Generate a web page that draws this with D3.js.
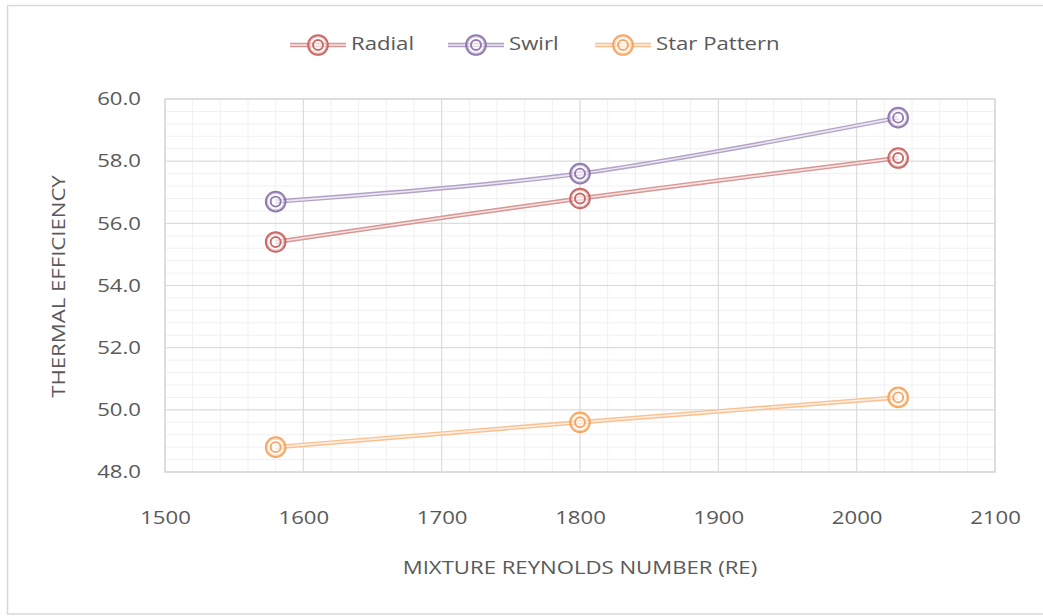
<!DOCTYPE html>
<html>
<head>
<meta charset="utf-8">
<script src="https://cdn.jsdelivr.net/npm/d3@7"></script>
<style>
  html, body { margin: 0; padding: 0; background: #fff; }
  svg { display: block; }
  text { font-family: "Open Sans", "Liberation Sans", sans-serif; fill: #595959; }
</style>
</head>
<body>
<svg id="chart" width="1043" height="616"></svg>
<script>
// Reynolds numbers of the mixture (x) and thermal efficiency per injector pattern
const reynolds = [1580, 1800, 2030];
const radial = [55.4, 56.8, 58.1];
const swirl = [56.7, 57.6, 59.4];
const starPattern = [48.8, 49.6, 50.4];

const seriesNames = ["Radial", "Swirl", "Star Pattern"];
const seriesValues = [radial, swirl, starPattern];
const ringColors = ["#c0504d", "#8064a2", "#f79646"];
const lineColors = ["#d99694", "#b3a2c7", "#fac090"];

const xTicks = [1500, 1600, 1700, 1800, 1900, 2000, 2100];
const yTicks = [48, 50, 52, 54, 56, 58, 60];

const svg = d3.select("#chart");
const W = 1043, H = 616;
const STRETCH = 1.23; // wide lettering of the chart's text

// outer chart frame
svg.append("rect")
  .attr("x", 7.5).attr("y", 5.5)
  .attr("width", W).attr("height", 608.5)
  .attr("fill", "#fff").attr("stroke", "#d9d9d9").attr("stroke-width", 1.5);

const plot = { left: 165, right: 995, top: 99, bottom: 472 };

const x = d3.scaleLinear().domain([1500, 2100]).range([plot.left, plot.right]);
const y = d3.scaleLinear().domain([48, 60]).range([plot.bottom, plot.top]);

const g = svg.append("g");

// minor gridlines
const xMinor = d3.range(1500, 2100.01, 20);
const yMinor = d3.range(48, 60.001, 0.4);
g.append("g").selectAll("line").data(xMinor).join("line")
  .attr("x1", d => x(d)).attr("x2", d => x(d))
  .attr("y1", plot.top).attr("y2", plot.bottom)
  .attr("stroke", "#f0f0f0").attr("stroke-width", 1);
g.append("g").selectAll("line").data(yMinor).join("line")
  .attr("y1", d => y(d)).attr("y2", d => y(d))
  .attr("x1", plot.left).attr("x2", plot.right)
  .attr("stroke", "#f0f0f0").attr("stroke-width", 1);

// major gridlines
g.append("g").selectAll("line").data(xTicks).join("line")
  .attr("x1", d => x(d)).attr("x2", d => x(d))
  .attr("y1", plot.top).attr("y2", plot.bottom)
  .attr("stroke", "#d9d9d9").attr("stroke-width", 1);
g.append("g").selectAll("line").data(yTicks).join("line")
  .attr("y1", d => y(d)).attr("y2", d => y(d))
  .attr("x1", plot.left).attr("x2", plot.right)
  .attr("stroke", "#d9d9d9").attr("stroke-width", 1);

// plot area border
g.append("rect")
  .attr("x", plot.left).attr("y", plot.top)
  .attr("width", plot.right - plot.left).attr("height", plot.bottom - plot.top)
  .attr("fill", "none").attr("stroke", "#d9d9d9").attr("stroke-width", 1.5);

// axes via d3 axis generators, styled without domain lines/ticks
const xAxis = d3.axisBottom(x).tickValues(xTicks).tickFormat(d3.format("d")).tickSize(0).tickPadding(0);
const yAxis = d3.axisLeft(y).tickValues(yTicks).tickFormat(d3.format(".1f")).tickSize(0).tickPadding(0);

const gx = svg.append("g").attr("transform", `translate(0,${plot.bottom + 46})`).call(xAxis);
gx.select(".domain").remove();
gx.selectAll("text").attr("font-size", 18).attr("fill", "#595959")
  .attr("dy", "0.35em").style("font-family", "'Open Sans', sans-serif");

const gy = svg.append("g").attr("transform", `translate(${plot.left - 24},0)`).call(yAxis);
gy.select(".domain").remove();
gy.selectAll("text").attr("font-size", 18).attr("fill", "#595959")
  .style("font-family", "'Open Sans', sans-serif");

// axis titles
svg.append("text")
  .attr("x", (plot.left + plot.right) / 2).attr("y", 569)
  .attr("text-anchor", "middle").attr("dominant-baseline", "middle")
  .attr("font-size", 18).text("MIXTURE REYNOLDS NUMBER (RE)");

svg.append("text")
  .attr("transform", `translate(60,${(plot.top + plot.bottom) / 2 + 1}) rotate(-90)`)
  .attr("text-anchor", "middle").attr("dominant-baseline", "middle")
  .attr("font-size", 18).text("THERMAL EFFICIENCY");

// smoothed series lines, drawn as a double stroke
const line = d3.line()
  .x((d, i) => x(reynolds[i]))
  .y(d => y(d))
  .curve(d3.curveCardinal.tension(0));

function drawMarker(sel, cx, cy, color) {
  sel.append("circle").attr("cx", cx).attr("cy", cy).attr("r", 9.8)
    .attr("fill", "#fff").attr("fill-opacity", 0.6)
    .attr("stroke", color).attr("stroke-width", 2).attr("stroke-opacity", 0.85);
  sel.append("circle").attr("cx", cx).attr("cy", cy).attr("r", 8.2)
    .attr("fill", "none").attr("stroke", color).attr("stroke-width", 0.8).attr("stroke-opacity", 0.45);
  sel.append("circle").attr("cx", cx).attr("cy", cy).attr("r", 5)
    .attr("fill", "none").attr("stroke", color).attr("stroke-width", 1.9).attr("stroke-opacity", 0.85);
}

seriesValues.forEach((vals, k) => {
  const s = svg.append("g");
  s.append("path").datum(vals).attr("d", line)
    .attr("fill", "none").attr("stroke", lineColors[k]).attr("stroke-width", 4.5);
  s.append("path").datum(vals).attr("d", line)
    .attr("fill", "none").attr("stroke", "#fff").attr("stroke-width", 1.6).attr("stroke-opacity", 0.75);
  vals.forEach((v, i) => drawMarker(s, x(reynolds[i]), y(v), ringColors[k]));
});

// legend
const legendItems = [
  { x: 290, name: seriesNames[0] },
  { x: 448, name: seriesNames[1] },
  { x: 595, name: seriesNames[2] }
];
legendItems.forEach((it, k) => {
  const lg = svg.append("g");
  const ly = 45;
  lg.append("line").attr("x1", it.x).attr("x2", it.x + 56).attr("y1", ly).attr("y2", ly)
    .attr("stroke", lineColors[k]).attr("stroke-width", 4.5);
  lg.append("line").attr("x1", it.x).attr("x2", it.x + 56).attr("y1", ly).attr("y2", ly)
    .attr("stroke", "#fff").attr("stroke-width", 1.6).attr("stroke-opacity", 0.75);
  drawMarker(lg, it.x + 28, ly, ringColors[k]);
  lg.append("text").attr("x", it.x + 61).attr("y", ly)
    .attr("dominant-baseline", "middle").attr("font-size", 18).text(it.name);
});

// widen every label to the chart's broad lettering
svg.selectAll("text").each(function () {
  const w = this.getComputedTextLength();
  d3.select(this).attr("textLength", w * STRETCH).attr("lengthAdjust", "spacingAndGlyphs");
});
</script>
</body>
</html>
